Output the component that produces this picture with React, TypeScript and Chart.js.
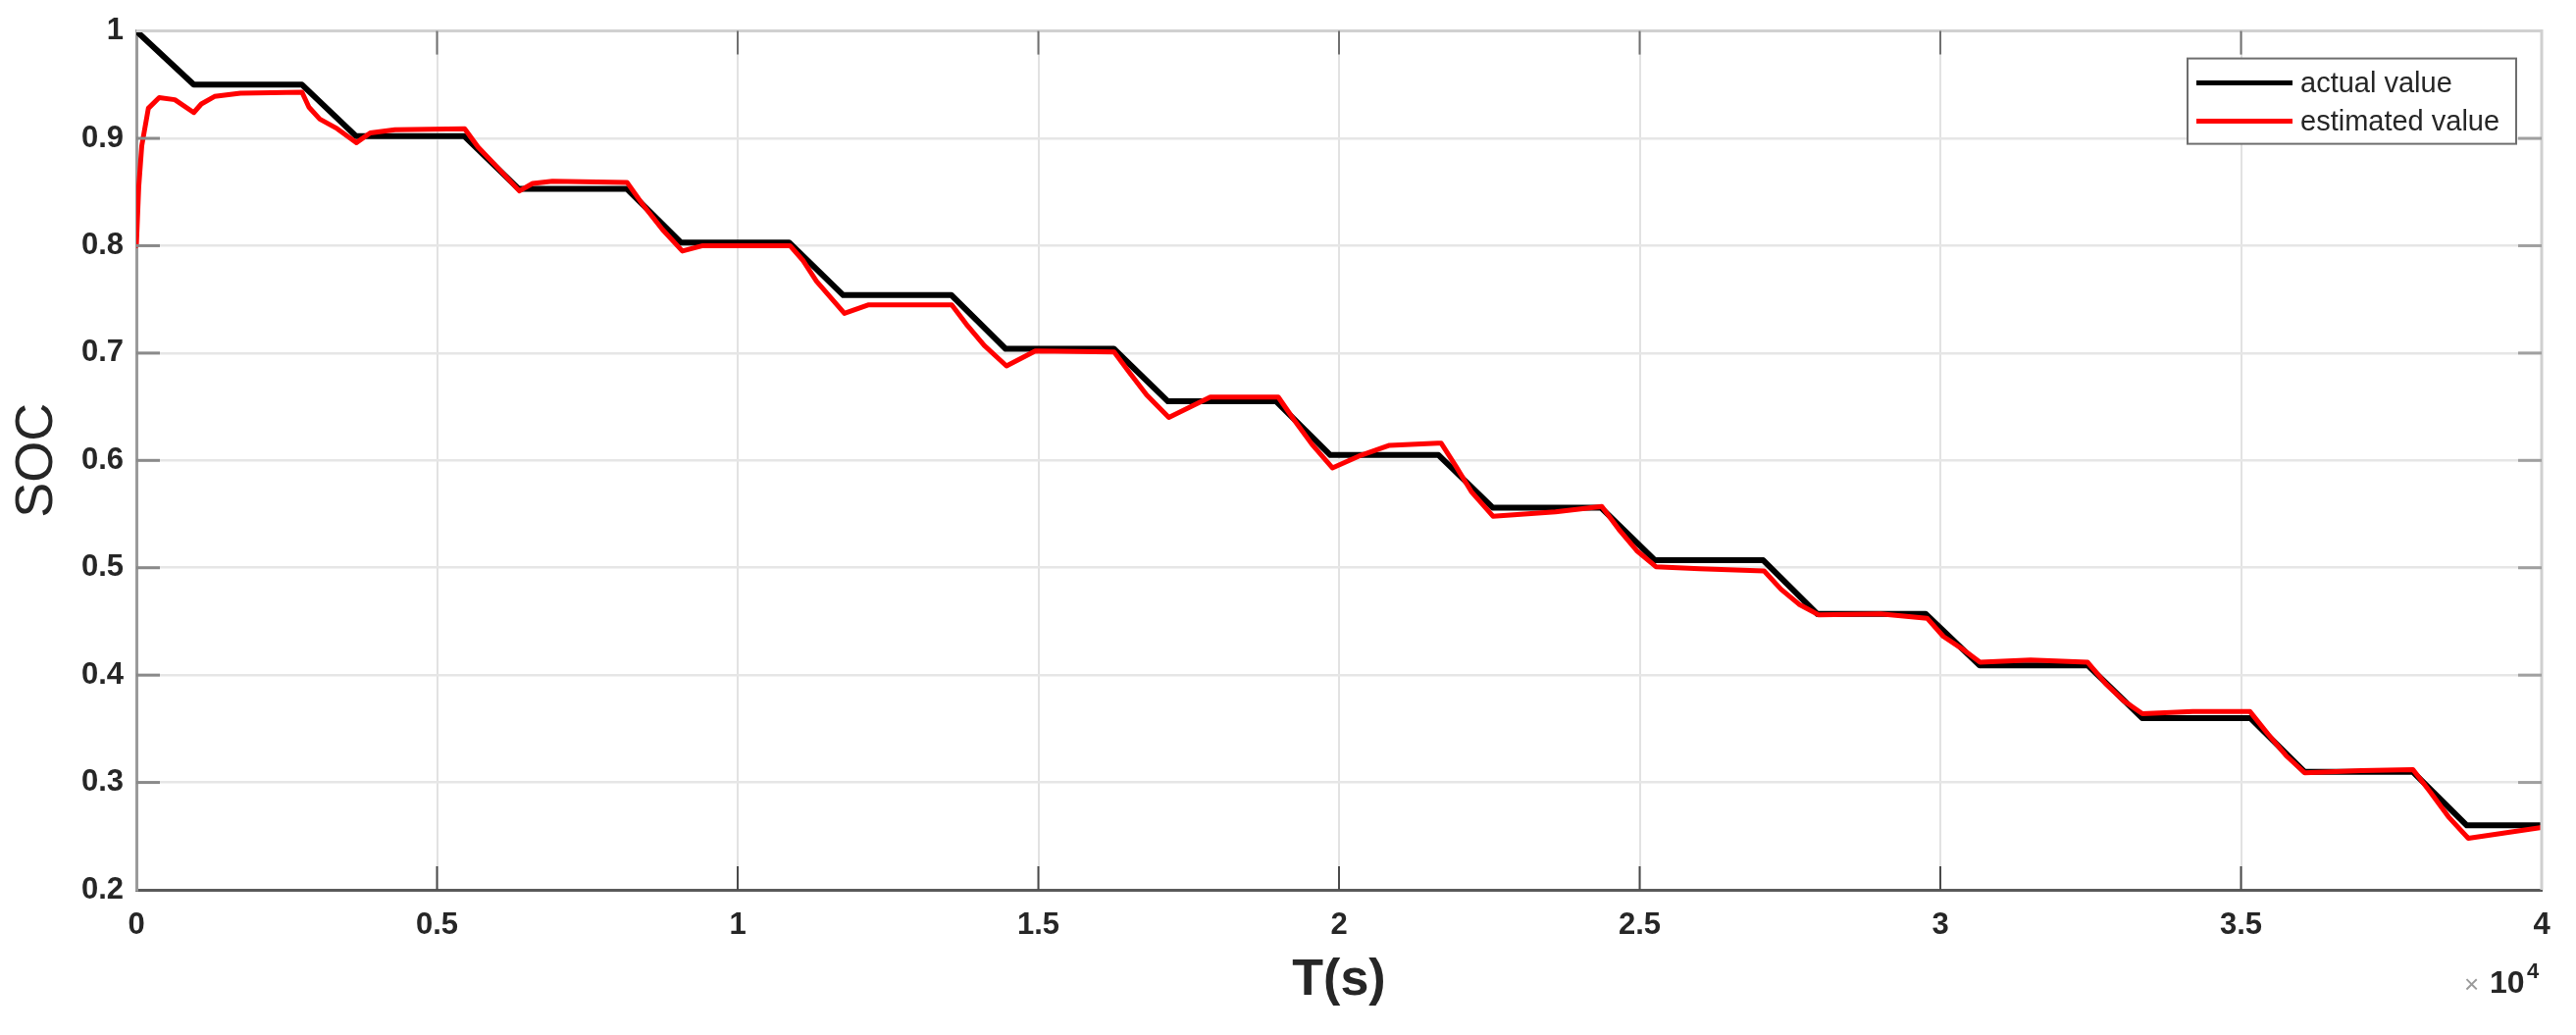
import React, { useEffect, useRef } from 'react';
import { Chart, registerables } from 'chart.js';

Chart.register(...registerables);

// ---------------- data ----------------
const seriesNames = ['actual value', 'estimated value'];

const actualT = [
  0, 955, 2755, 3655, 5455, 6355, 8155, 9055, 10855, 11755, 13555, 14455, 16255, 17155,
  18955, 19855, 21655, 22555, 24355, 25255, 27055, 27955, 29755, 30655, 32455, 33355,
  35155, 36055, 37855, 38755, 40000,
];
const actualSOC = [
  1.0, 0.95, 0.95, 0.902, 0.902, 0.853, 0.853, 0.803, 0.803, 0.754, 0.754, 0.704, 0.704, 0.655,
  0.655, 0.605, 0.605, 0.556, 0.556, 0.507, 0.507, 0.457, 0.457, 0.409, 0.409, 0.36,
  0.36, 0.31, 0.31, 0.26, 0.26,
];

const estT = [
  0, 40, 90, 200, 380, 640, 955, 1080, 1300, 1730, 2755, 2870, 3050, 3340, 3660, 3890, 4300,
  5460, 5680, 5970, 6370, 6590, 6920, 8160, 8400, 8750, 9080, 9420, 10870, 11090, 11310,
  11775, 12180, 13560, 13800, 14100, 14470, 14950, 16260, 16500, 16800, 17170, 17860, 18990,
  19250, 19550, 19890, 20330, 20840, 21640, 21700, 21950, 22200, 22560, 23600, 24370, 24650,
  24950, 25270, 26000, 27070, 27350, 27650, 27980, 29000, 29780, 30050, 30350, 30660, 31500,
  32450, 32750, 33050, 33360, 34200, 35150, 35450, 35750, 36060, 37000, 37860, 38150, 38450,
  38780, 40000,
];
const estSOC = [
  0.8, 0.855, 0.893, 0.928, 0.938, 0.936, 0.924, 0.932, 0.939, 0.942, 0.943, 0.929, 0.918,
  0.909, 0.896, 0.905, 0.908, 0.909, 0.892, 0.875, 0.851, 0.858, 0.86, 0.859, 0.84, 0.815,
  0.795, 0.8, 0.8, 0.786, 0.767, 0.737, 0.745, 0.745, 0.727, 0.707, 0.688, 0.702, 0.701,
  0.683, 0.661, 0.64, 0.659, 0.659, 0.638, 0.615, 0.593, 0.604, 0.614, 0.616, 0.616, 0.594,
  0.571, 0.548, 0.552, 0.557, 0.536, 0.516, 0.501, 0.499, 0.497, 0.48, 0.466, 0.456, 0.457,
  0.453, 0.436, 0.425, 0.412, 0.414, 0.412, 0.392, 0.376, 0.364, 0.366, 0.366, 0.345, 0.325,
  0.309, 0.311, 0.312, 0.291, 0.268, 0.248, 0.258,
];

const xTickLabels = ['0', '0.5', '1', '1.5', '2', '2.5', '3', '3.5', '4'];
const yTickLabels = ['0.2', '0.3', '0.4', '0.5', '0.6', '0.7', '0.8', '0.9', '1'];
const xTitle = 'T(s)';
const yTitle = 'SOC';
const exponentBase = '10';
const exponentPower = '4';

// ---------------- component ----------------
const W = 2626;
const H = 1055;
const FONT = "'Liberation Sans', Arial, Helvetica, sans-serif";
const TEXT = '#262626';

export default function App() {
  const ref = useRef<HTMLCanvasElement>(null);

  useEffect(() => {
    const canvas = ref.current;
    if (!canvas) return;

    const framePlugin = {
      id: 'matlabFrame',
      afterDraw(chart: any) {
        const { ctx, chartArea } = chart;
        const { left, right, top, bottom } = chartArea;
        const xs = chart.scales.x;
        const ys = chart.scales.y;
        ctx.save();

        // top & right box lines
        ctx.lineCap = 'butt';
        ctx.strokeStyle = '#d0d0d0';
        ctx.lineWidth = 3;
        ctx.beginPath();
        ctx.moveTo(left, top);
        ctx.lineTo(right, top);
        ctx.lineTo(right, bottom);
        ctx.stroke();

        // inward tick marks
        const TL = 24;
        xs.ticks.forEach((t: any, i: number) => {
          if (i === 0 || i === xs.ticks.length - 1) return;
          const px = xs.getPixelForValue(t.value);
          ctx.strokeStyle = '#4a4a4a';
          ctx.lineWidth = 2;
          ctx.beginPath();
          ctx.moveTo(px, bottom);
          ctx.lineTo(px, bottom - TL);
          ctx.stroke();
          ctx.strokeStyle = '#707070';
          ctx.beginPath();
          ctx.moveTo(px, top);
          ctx.lineTo(px, top + TL);
          ctx.stroke();
        });
        ys.ticks.forEach((t: any, i: number) => {
          if (i === 0 || i === ys.ticks.length - 1) return;
          const py = ys.getPixelForValue(t.value);
          ctx.strokeStyle = '#8a8a8a';
          ctx.lineWidth = 3;
          ctx.beginPath();
          ctx.moveTo(left, py);
          ctx.lineTo(left + TL, py);
          ctx.stroke();
          ctx.strokeStyle = '#a0a0a0';
          ctx.beginPath();
          ctx.moveTo(right, py);
          ctx.lineTo(right - TL, py);
          ctx.stroke();
        });

        // legend box
        const bw = 335;
        const bh = 87;
        const bx = right - 361;
        const by = top + 28;
        ctx.fillStyle = '#ffffff';
        ctx.fillRect(bx, by, bw, bh);
        ctx.strokeStyle = '#6e6e6e';
        ctx.lineWidth = 2;
        ctx.strokeRect(bx, by, bw, bh);
        const rowsY = [by + 25, by + 64];
        const dsets = chart.data.datasets;
        const ordered = [dsets[1], dsets[0]]; // actual first, estimated second
        ordered.forEach((ds: any, i: number) => {
          const yy = rowsY[i];
          ctx.strokeStyle = ds.borderColor;
          ctx.lineWidth = 5;
          ctx.lineCap = 'butt';
          ctx.beginPath();
          ctx.moveTo(bx + 9, yy);
          ctx.lineTo(bx + 107, yy);
          ctx.stroke();
          ctx.fillStyle = TEXT;
          ctx.font = `29px ${FONT}`;
          ctx.textAlign = 'left';
          ctx.textBaseline = 'middle';
          ctx.fillText(ds.label, bx + 115, yy + 1);
        });

        // x10^4 exponent label
        ctx.textBaseline = 'alphabetic';
        ctx.textAlign = 'left';
        ctx.fillStyle = '#9a9a9a';
        ctx.font = `26px ${FONT}`;
        ctx.fillText('\u00d7', right - 79, bottom + 105);
        ctx.fillStyle = TEXT;
        ctx.font = `bold 32px ${FONT}`;
        ctx.fillText(exponentBase, right - 53, bottom + 105);
        ctx.font = `bold 22px ${FONT}`;
        ctx.fillText(exponentPower, right - 15, bottom + 90);

        ctx.restore();
      },
    };

    const chart = new Chart(canvas, {
      type: 'line',
      data: {
        datasets: [
          {
            label: seriesNames[1],
            data: estT.map((t, i) => ({ x: t, y: estSOC[i] })),
            borderColor: '#ff0000',
            borderWidth: 5,
            pointRadius: 0,
            tension: 0,
            borderJoinStyle: 'round',
            borderCapStyle: 'round',
            order: 0,
          },
          {
            label: seriesNames[0],
            data: actualT.map((t, i) => ({ x: t, y: actualSOC[i] })),
            borderColor: '#000000',
            borderWidth: 6,
            pointRadius: 0,
            tension: 0,
            borderJoinStyle: 'round',
            borderCapStyle: 'round',
            order: 1,
          },
        ],
      },
      options: {
        responsive: false,
        devicePixelRatio: 1,
        animation: false,
        events: [],
        layout: { padding: { top: 31, right: 35, left: 0, bottom: 0 } },
        plugins: {
          legend: { display: false },
          tooltip: { enabled: false },
        },
        scales: {
          x: {
            type: 'linear',
            min: 0,
            max: 40000,
            afterFit: (s: any) => {
              s.height = 148;
            },
            ticks: {
              stepSize: 5000,
              autoSkip: false,
              maxRotation: 0,
              padding: 18,
              color: TEXT,
              font: { family: FONT, size: 31, weight: 'bold' },
              callback: (_v: any, i: number) => xTickLabels[i],
            },
            grid: { color: '#e2e2e2', lineWidth: 2, drawTicks: false },
            border: { display: true, color: '#5a5a5a', width: 3 },
            title: {
              display: true,
              text: xTitle,
              color: TEXT,
              font: { family: FONT, size: 52, weight: 'bold' },
              padding: { top: 0, bottom: 24 },
            },
          },
          y: {
            type: 'linear',
            min: 0.2,
            max: 1,
            afterFit: (s: any) => {
              s.width = 139;
            },
            ticks: {
              stepSize: 0.1,
              autoSkip: false,
              padding: 13,
              color: TEXT,
              font: { family: FONT, size: 31, weight: 'bold' },
              callback: (_v: any, i: number) => yTickLabels[i],
            },
            grid: { color: '#e6e6e6', lineWidth: 2.5, drawTicks: false },
            border: { display: true, color: '#9a9a9a', width: 3 },
            title: {
              display: true,
              text: yTitle,
              color: TEXT,
              font: { family: FONT, size: 54, weight: 'normal' },
              padding: { top: 6, bottom: 0 },
            },
          },
        },
      },
      plugins: [framePlugin],
    } as any);

    return () => chart.destroy();
  }, []);

  return (
    <div style={{ position: 'fixed', left: 0, top: 0, width: W, height: H, background: '#ffffff', overflow: 'hidden' }}>
      <canvas ref={ref} width={W} height={H} style={{ width: W, height: H, display: 'block' }} />
    </div>
  );
}
